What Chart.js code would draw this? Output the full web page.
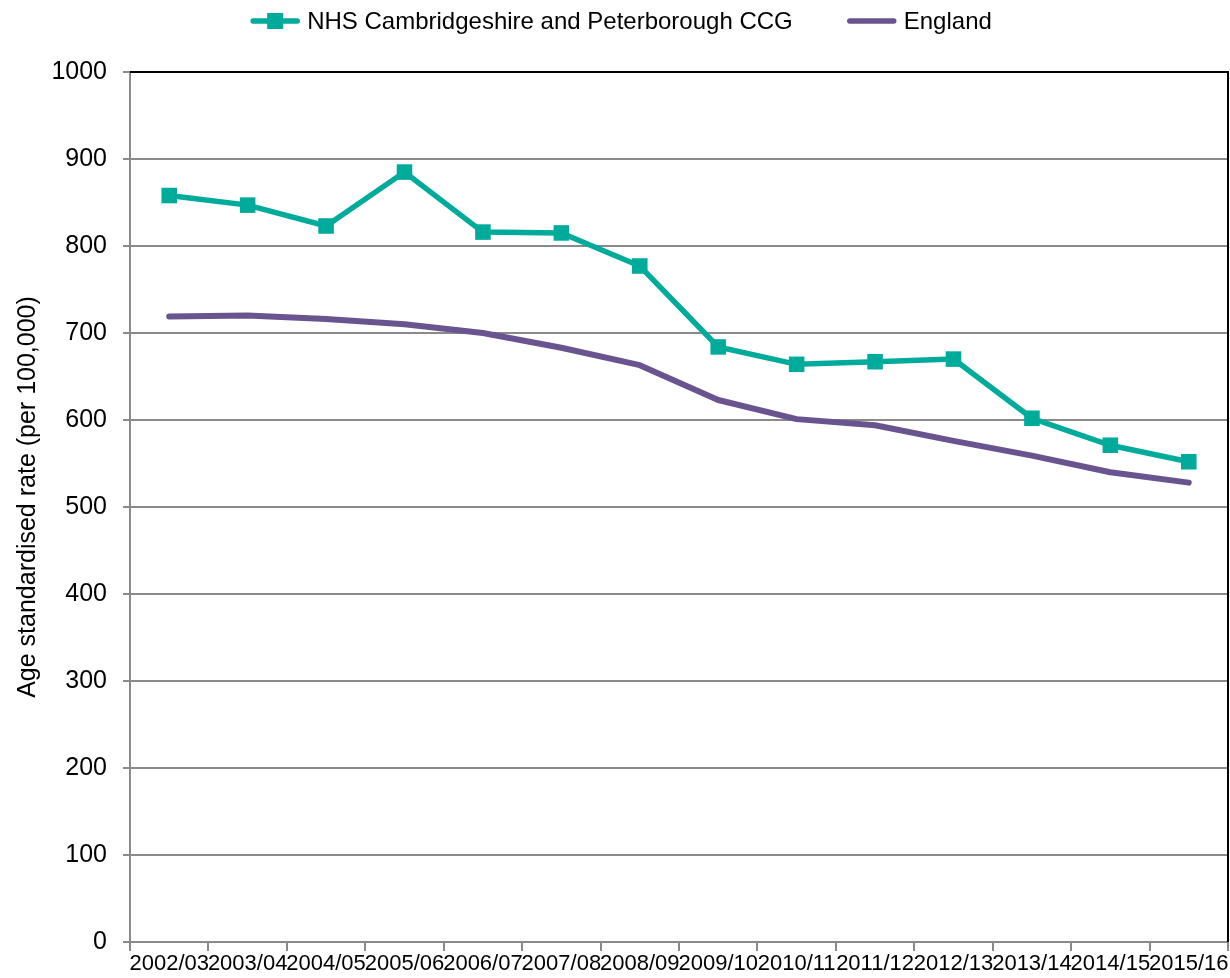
<!DOCTYPE html>
<html>
<head>
<meta charset="utf-8">
<script src="https://cdn.jsdelivr.net/npm/chart.js@4/dist/chart.umd.min.js"></script>
<style>
  html, body { margin: 0; padding: 0; background: #fff; }
  #wrap { width: 1230px; height: 978px; }
</style>
</head>
<body>
<div id="wrap"><canvas id="grafico"></canvas></div>
<script>
const years = ['2002/03', '2003/04', '2004/05', '2005/06', '2006/07', '2007/08', '2008/09',
  '2009/10', '2010/11', '2011/12', '2012/13', '2013/14', '2014/15', '2015/16'];
const ccgRates = [858, 847, 823, 885, 816, 815, 777, 684, 664, 667, 670, 602, 571, 552];
const englandRates = [719, 720, 716, 710, 700, 683, 663, 623, 601, 594, 576, 559, 540, 528];
const seriesNames = ['NHS Cambridgeshire and Peterborough CCG', 'England'];
const yTicks = [0, 100, 200, 300, 400, 500, 600, 700, 800, 900, 1000];
const yTitle = 'Age standardised rate (per 100,000)';

const TEAL = '#00ab9c';
const PURPLE = '#6a5490';
const GRID = '#8a8a8a';
const FONT = "'Liberation Sans', Arial, sans-serif";

// legend drawn by hand: line (+ square marker) then label, items centred
const legendPlugin = {
  id: 'lineLegend',
  afterDraw(chart) {
    const ctx = chart.ctx;
    const y = 21;
    const lineLen = 50, gap = 7, itemGap = 54;
    ctx.save();
    ctx.font = '24px ' + FONT;
    const widths = seriesNames.map(n => ctx.measureText(n).width);
    const total = widths.reduce((a, w) => a + lineLen + gap + w, 0) + itemGap;
    let x = chart.width / 2 - total / 2 + 6;
    const colors = [TEAL, PURPLE];
    seriesNames.forEach((name, i) => {
      ctx.strokeStyle = colors[i];
      ctx.lineWidth = 5.5;
      ctx.lineCap = 'round';
      ctx.beginPath();
      ctx.moveTo(x + 3, y);
      ctx.lineTo(x + lineLen - 3, y);
      ctx.stroke();
      if (i === 0) {
        ctx.fillStyle = colors[i];
        ctx.fillRect(x + lineLen / 2 - 8, y - 8, 16, 16);
      }
      ctx.fillStyle = '#000';
      ctx.textBaseline = 'middle';
      ctx.textAlign = 'left';
      ctx.fillText(name, x + lineLen + gap, y + 1);
      x += lineLen + gap + widths[i] + itemGap;
    });
    ctx.restore();
  }
};

// rotated y-axis title, sitting a little above the middle of the axis
const yTitlePlugin = {
  id: 'yTitle',
  afterDraw(chart) {
    const { ctx, chartArea: a } = chart;
    ctx.save();
    ctx.translate(28, (a.top + a.bottom) / 2 - 10);
    ctx.rotate(-Math.PI / 2);
    ctx.font = '25px ' + FONT;
    ctx.fillStyle = '#000';
    ctx.textAlign = 'center';
    ctx.textBaseline = 'middle';
    ctx.fillText(yTitle, 0, 0);
    ctx.restore();
  }
};

// black border on the top and right of the plot area
const frameBorder = {
  id: 'frameBorder',
  beforeDatasetsDraw(chart) {
    const { ctx, chartArea: a } = chart;
    ctx.save();
    ctx.strokeStyle = '#000';
    ctx.lineWidth = 2;
    ctx.beginPath();
    ctx.moveTo(a.left, a.top);
    ctx.lineTo(a.right, a.top);
    ctx.lineTo(a.right, a.bottom);
    ctx.stroke();
    ctx.restore();
  }
};

new Chart(document.getElementById('grafico').getContext('2d'), {
  type: 'line',
  data: {
    labels: years,
    datasets: [
      {
        label: seriesNames[0],
        data: ccgRates,
        borderColor: TEAL,
        backgroundColor: TEAL,
        borderWidth: 5.5,
        pointStyle: 'rect',
        pointRadius: 11,
        pointBorderWidth: 0,
        pointBackgroundColor: TEAL,
        tension: 0,
        fill: false
      },
      {
        label: seriesNames[1],
        data: englandRates,
        borderColor: PURPLE,
        backgroundColor: PURPLE,
        borderWidth: 6,
        borderCapStyle: 'round',
        borderJoinStyle: 'round',
        pointRadius: 0,
        tension: 0,
        fill: false
      }
    ]
  },
  options: {
    responsive: true,
    maintainAspectRatio: false,
    animation: false,
    layout: { autoPadding: false, padding: { top: 72, right: 2, bottom: 0, left: 10 } },
    plugins: {
      legend: { display: false },
      tooltip: { enabled: false }
    },
    scales: {
      x: {
        offset: true,
        afterFit: axis => { axis.height = 36; },
        grid: { display: true, drawOnChartArea: false, drawTicks: true, tickLength: 9, color: GRID, lineWidth: 2, offset: true },
        border: { display: true, color: GRID, width: 2 },
        ticks: { autoSkip: false, maxRotation: 0, minRotation: 0, padding: 0, color: '#000', font: { family: FONT, size: 22 } }
      },
      y: {
        min: 0,
        max: 1000,
        afterBuildTicks: axis => { axis.ticks = yTicks.map(v => ({ value: v })); },
        afterFit: axis => { axis.width = 120; },
        grid: { color: GRID, lineWidth: 2, tickLength: 7 },
        border: { display: true, color: GRID, width: 2 },
        ticks: { padding: 16, color: '#000', font: { family: FONT, size: 25 }, callback: v => String(v) },
        title: { display: false }
      }
    }
  },
  plugins: [legendPlugin, yTitlePlugin, frameBorder]
});
</script>
</body>
</html>
